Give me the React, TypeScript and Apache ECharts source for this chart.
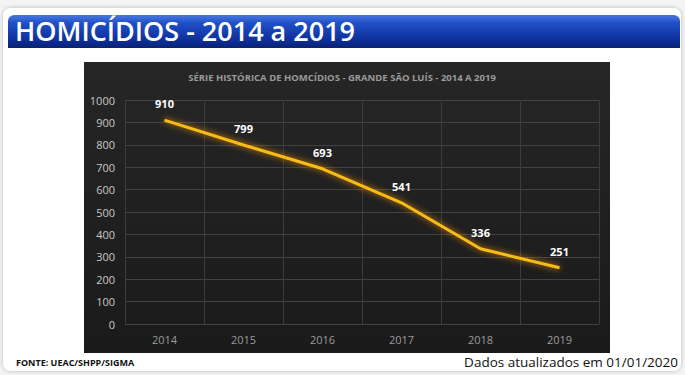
import React, { useEffect, useRef } from "react";
import * as echarts from "echarts";

const years = ["2014", "2015", "2016", "2017", "2018", "2019"];
const homicides = [910, 799, 693, 541, 336, 251];
const pageTitle = "HOMICÍDIOS - 2014 a 2019";
const chartTitle = "SÉRIE HISTÓRICA DE HOMCÍDIOS - GRANDE SÃO LUÍS - 2014 A 2019";
const sourceText = "FONTE: UEAC/SHPP/SIGMA";
const updatedText = "Dados atualizados em 01/01/2020";

export default function App() {
  const ref = useRef<HTMLDivElement>(null);
  useEffect(() => {
    const chart = echarts.init(ref.current!, null, { renderer: "svg" });
    chart.setOption({
      animation: false,
      backgroundColor: "#f4f4f4",
      graphic: [
        {
          type: "rect",
          z: -10,
          shape: { x: 3, y: 8, width: 678, height: 363, r: 8 },
          style: { fill: "#ffffff", shadowBlur: 4, shadowColor: "rgba(0,0,0,0.25)" },
        },
        {
          type: "rect",
          z: -9,
          shape: { x: 8, y: 15, width: 672, height: 33, r: [6, 6, 0, 0] },
          style: {
            fill: new echarts.graphic.LinearGradient(0, 0, 0, 1, [
              { offset: 0, color: "#4a78e0" },
              { offset: 0.25, color: "#1f4fc8" },
              { offset: 0.8, color: "#0d2d96" },
              { offset: 1, color: "#0a2270" },
            ]),
          },
        },
        {
          type: "rect",
          z: -8,
          shape: { x: 84, y: 62, width: 526, height: 291 },
          style: {
            fill: new echarts.graphic.LinearGradient(0, 0, 0, 1, [
              { offset: 0, color: "#262626" },
              { offset: 1, color: "#1a1a1a" },
            ]),
          },
        },
      ],
      title: [
        {
          text: pageTitle,
          left: 10,
          top: 12,
          textStyle: { color: "#ffffff", fontSize: 27, fontWeight: 600, fontFamily: "Open Sans" },
        },
        {
          text: chartTitle,
          left: 337,
          textAlign: "center",
          top: 67,
          textStyle: { color: "#9a9a9a", fontSize: 9.5, fontWeight: "bold", fontFamily: "Open Sans" },
        },
        {
          text: sourceText,
          left: 11,
          top: 353,
          textStyle: { color: "#111111", fontSize: 9, fontWeight: "bold", fontFamily: "Open Sans" },
        },
        {
          text: updatedText,
          right: 2,
          top: 350,
          textStyle: { color: "#111111", fontSize: 13.5, fontWeight: "normal", fontFamily: "Open Sans" },
        },
      ],
      grid: { left: 125, right: 86, top: 100, bottom: 51 },
      xAxis: {
        type: "category",
        data: years,
        boundaryGap: true,
        axisLine: { show: false },
        axisTick: { show: false },
        axisLabel: { color: "#9a9a9a", fontSize: 11, margin: 10, fontFamily: "Open Sans" },
        splitLine: { show: true, lineStyle: { color: "#3c3c3c", width: 1 } },
      },
      yAxis: {
        type: "value",
        min: 0,
        max: 1000,
        interval: 100,
        axisLine: { show: false },
        axisTick: { show: false },
        axisLabel: {
          color: "#c8c8c8",
          fontSize: 11,
          margin: 10,
          fontFamily: "Open Sans",
          formatter: (v: number) => String(v),
        },
        splitLine: { lineStyle: { color: "#424242", width: 1 } },
      },
      series: [
        {
          type: "line",
          data: homicides,
          symbol: "circle",
          symbolSize: 2,
          showSymbol: true,
          itemStyle: { color: "rgba(0,0,0,0)", borderWidth: 0 },
          lineStyle: {
            color: "#f7bd18",
            width: 3,
            shadowBlur: 6,
            shadowColor: "rgba(255,150,0,0.9)",
          },
          label: {
            show: true,
            position: "top",
            distance: 10,
            color: "#ffffff",
            fontSize: 11,
            fontWeight: "bold",
            fontFamily: "Open Sans",
          },
        },
      ],
    });
    return () => chart.dispose();
  }, []);
  return <div ref={ref} style={{ width: 685, height: 375, position: "absolute", left: 0, top: 0 }} />;
}
